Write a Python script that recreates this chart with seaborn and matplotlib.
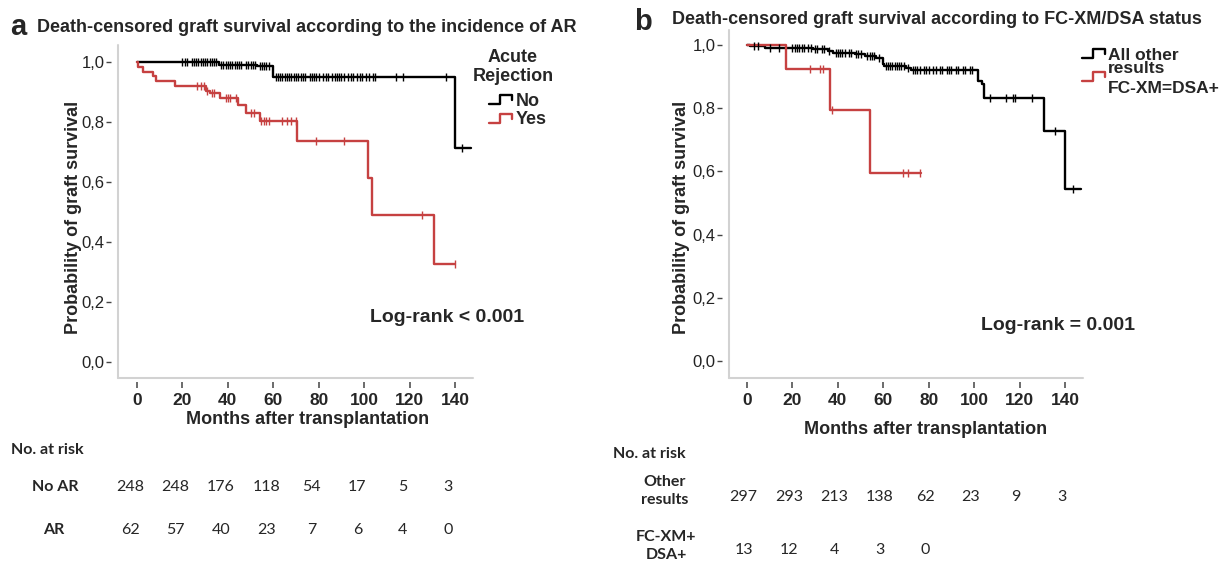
import numpy as np
import pandas as pd
import matplotlib
matplotlib.use("Agg")
import matplotlib.pyplot as plt
import matplotlib.transforms as mtransforms
from matplotlib.lines import Line2D
from matplotlib.legend_handler import HandlerBase
import seaborn as sns

# --- panel a: acute rejection ---
a_no_time = [0, 36, 53, 60, 140, 147]
a_no_surv = [1.0, 0.991, 0.985, 0.951, 0.714, 0.714]
a_no_cens = [20, 21, 22, 24, 25, 26, 27, 28, 29, 30, 31, 32, 33, 34, 35,
             37, 38, 39, 40, 41, 42, 43, 44, 45, 46, 48, 49, 50, 51, 52,
             54, 55, 56, 57, 58,
             61, 62, 63, 64, 65, 66, 67, 68, 69, 70, 71, 72, 73, 74, 76, 77,
             78, 79, 80, 82, 83, 84, 86, 87, 88, 89, 90, 91, 93, 94, 95, 97,
             98, 99, 101, 102, 104, 105, 114, 117, 136, 143]

a_yes_time = [0, 0.6, 2.5, 7.2, 8.4, 16.7, 30.4, 32, 36.5, 44.6, 48, 54.2,
              70.3, 101.9, 103.6, 130.8, 140]
a_yes_surv = [1.0, 0.984, 0.968, 0.952, 0.935, 0.919, 0.903, 0.895, 0.879,
              0.856, 0.830, 0.804, 0.736, 0.613, 0.491, 0.327, 0.327]
a_yes_cens = [26.5, 28, 29.5, 31, 33, 34, 39, 40, 41, 43.5, 50, 51.5,
              54.5, 56, 57, 58, 64, 66, 68, 70, 79, 91, 125.5, 140]

# --- panel b: FC-XM / DSA ---
b_oth_time = [0, 1.5, 8, 29, 35.5, 38, 47.5, 52, 57, 59.7, 60.5, 70, 72,
              101.5, 103.3, 104.5, 130.8, 140, 147]
b_oth_surv = [1.0, 0.997, 0.99, 0.986, 0.981, 0.976, 0.97, 0.965, 0.96,
              0.94, 0.932, 0.926, 0.92, 0.886, 0.876, 0.832, 0.727, 0.544,
              0.544]
b_oth_cens = [3, 5, 10, 14, 20, 21, 22, 23, 24, 25, 27, 28, 30, 31, 33, 34,
              36, 39, 40, 41, 42, 43, 45, 46, 48, 49, 50, 53, 54, 55, 56, 58,
              61, 62, 63, 64, 65, 66, 67, 68, 69, 71,
              73, 74, 75, 76, 78, 79, 80, 82, 83, 85, 86, 88, 89, 90, 92, 93,
              95, 96, 98, 99, 107, 114, 117, 118, 125.5, 135.6, 143.5]

b_fc_time = [0, 17.2, 36.6, 54.2, 76.5]
b_fc_surv = [1.0, 0.923, 0.794, 0.594, 0.594]
b_fc_cens = [27.7, 32.1, 33.3, 37.3, 68.8, 71, 76.2]

xticks = [0, 20, 40, 60, 80, 100, 120, 140]
yticks = [0.0, 0.2, 0.4, 0.6, 0.8, 1.0]
ytick_labels = ["0,0", "0,2", "0,4", "0,6", "0,8", "1,0"]

# --- numbers at risk ---
risk_months = [0, 20, 40, 60, 80, 100, 120, 140]
risk_a_noar = [248, 248, 176, 118, 54, 17, 5, 3]
risk_a_ar = [62, 57, 40, 23, 7, 6, 4, 0]
risk_b_other = [297, 293, 213, 138, 62, 23, 9, 3]
risk_b_fcxm = [13, 12, 4, 3, 0]

RED = "#c64141"
W, H = 1221, 567

sns.set_style("white")
plt.rcParams["font.family"] = ["Liberation Sans", "DejaVu Sans"]
TABLE_FONT = ["Lato", "DejaVu Sans"]


def fpos(x, y):
    # pixel position -> figure fraction
    return x / W, 1 - y / H


class StepHandler(HandlerBase):
    """legend handle drawn as a little step, like SPSS"""

    def __init__(self, dy=0.0):
        super().__init__()
        self.dy = dy

    def create_artists(self, legend, orig_handle, xdescent, ydescent,
                       width, height, fontsize, trans):
        xs = np.array([0, 0.45, 0.45, 1.0, 1.0]) * width - xdescent
        ys = np.array([0.15, 0.15, 0.85, 0.85, 0.45]) * height - ydescent + self.dy
        ln = Line2D(xs, ys, color=orig_handle.get_color(),
                    lw=orig_handle.get_linewidth(), transform=trans)
        return [ln]


def make_axes(fig, left, right, top, bottom, x0, y1, y0):
    # left/right/top/bottom: axes box in px; x0: px of month 0; y1/y0: px of 1.0 / 0.0
    xscale = 2.2714
    yscale = y0 - y1
    ax = fig.add_axes([left / W, 1 - bottom / H, (right - left) / W, (bottom - top) / H])
    ax.set_xlim((left - x0) / xscale, (right - x0) / xscale)
    ax.set_ylim(-(bottom - y0) / yscale, 1 + (y1 - top) / yscale)
    return ax


def draw_km(ax, times, surv, cens, color):
    df = pd.DataFrame({"t": times, "s": surv})
    sns.lineplot(data=df, x="t", y="s", drawstyle="steps-post", color=color,
                 lw=1.7, estimator=None, sort=False, ax=ax, clip_on=False)
    idx = np.searchsorted(times, cens, side="right") - 1
    cdf = pd.DataFrame({"t": cens, "s": np.asarray(surv)[idx]})
    sns.scatterplot(data=cdf, x="t", y="s", marker="|", s=30, linewidth=1.0,
                    color=color, ax=ax, zorder=3, clip_on=False)


def style_axes(ax):
    for side in ["top", "right"]:
        ax.spines[side].set_visible(False)
    ax.spines["left"].set_position(("outward", 5))
    ax.spines["bottom"].set_position(("outward", 3))
    ax.spines["left"].set_visible(False)
    ax.spines["bottom"].set_visible(False)
    # light grey axis lines, ticks sit a few px off them
    ax.plot([0, 0], [0, 1], transform=ax.transAxes, color="#d2d2d2", lw=1.5, clip_on=False)
    ax.plot([0, 1], [0, 0], transform=ax.transAxes, color="#d2d2d2", lw=1.5, clip_on=False)
    ax.set_xticks(xticks)
    ax.set_xticklabels([str(v) for v in xticks], fontweight="bold", fontsize=12.5)
    ax.set_yticks(yticks)
    ax.set_yticklabels(ytick_labels, fontsize=12, color="#222222")
    ax.tick_params(axis="x", bottom=True, length=4.5, width=1.1, color="#444444", pad=3)
    ax.tick_params(axis="y", left=True, length=3.5, width=1.0, color="#444444", pad=1.0)
    ax.set_xlabel("")
    ax.set_ylabel("")


fig = plt.figure(figsize=(W / 100, H / 100), dpi=100)

# ---------------- panel a ----------------
ax_a = make_axes(fig, 118, 473, 45, 378, 137, 62, 362)
draw_km(ax_a, a_no_time, a_no_surv, a_no_cens, "black")
draw_km(ax_a, a_yes_time, a_yes_surv, a_yes_cens, RED)
style_axes(ax_a)

fig.text(*fpos(10, 27), "a", fontsize=21, fontweight="bold", va="center", ha="left")
fig.text(*fpos(37, 27), "Death-censored graft survival according to the incidence of AR",
         fontsize=13, fontweight="bold", va="center", ha="left")
fig.text(*fpos(73, 217), "Probability of graft survival", rotation=90,
         fontsize=13, fontweight="bold", va="center", ha="center")
fig.text(*fpos(308, 420), "Months after transplantation",
         fontsize=13, fontweight="bold", va="center", ha="center")
fig.text(*fpos(447, 317), "Log-rank < 0.001", fontsize=14, fontweight="bold",
         va="center", ha="center")

# legend title as its own text, entries underneath
fig.text(*fpos(513, 49), "Acute\nRejection", fontsize=13, fontweight="bold",
         va="top", ha="center", multialignment="center", linespacing=1.15)
h_a = [Line2D([], [], color="black", lw=1.7), Line2D([], [], color=RED, lw=1.7)]
leg_a = ax_a.legend(h_a, ["No", "Yes"],
                    loc="upper left", bbox_to_anchor=fpos(489, 93),
                    bbox_transform=fig.transFigure, frameon=False,
                    prop={"weight": "bold", "size": 13},
                    handlelength=1.3, handletextpad=0.2, labelspacing=0.08,
                    borderpad=0, borderaxespad=0,
                    handler_map={Line2D: StepHandler()})

# risk table a
tr_a = mtransforms.blended_transform_factory(ax_a.transData, fig.transFigure)
fig.text(*fpos(11, 450), "No. at risk", family=TABLE_FONT, fontsize=11.5,
         fontweight="bold", va="center", ha="left")
fig.text(*fpos(55, 487), "No AR", family=TABLE_FONT, fontsize=11.5,
         fontweight="bold", va="center", ha="center")
fig.text(*fpos(54, 530), "AR", family=TABLE_FONT, fontsize=11.5,
         fontweight="bold", va="center", ha="center")
for m, n in zip(risk_months, risk_a_noar):
    ax_a.text(m - 3, 1 - 487 / H, str(n), transform=tr_a, family=TABLE_FONT,
              fontsize=11.5, va="center", ha="center")
for m, n in zip(risk_months, risk_a_ar):
    ax_a.text(m - 3, 1 - 530 / H, str(n), transform=tr_a, family=TABLE_FONT,
              fontsize=11.5, va="center", ha="center")

# ---------------- panel b ----------------
ax_b = make_axes(fig, 729, 1083, 30, 378, 747, 45, 361)
draw_km(ax_b, b_oth_time, b_oth_surv, b_oth_cens, "black")
draw_km(ax_b, b_fc_time, b_fc_surv, b_fc_cens, RED)
style_axes(ax_b)

fig.text(*fpos(634, 22), "b", fontsize=21, fontweight="bold", va="center", ha="left")
fig.text(*fpos(672, 20), "Death-censored graft survival according to FC-XM/DSA status",
         fontsize=13, fontweight="bold", va="center", ha="left")
fig.text(*fpos(682, 217), "Probability of graft survival", rotation=90,
         fontsize=13, fontweight="bold", va="center", ha="center")
fig.text(*fpos(926, 430), "Months after transplantation",
         fontsize=13, fontweight="bold", va="center", ha="center")
fig.text(*fpos(1058, 325), "Log-rank = 0.001", fontsize=14, fontweight="bold",
         va="center", ha="center")

h_b = [Line2D([], [], color="black", lw=1.7), Line2D([], [], color=RED, lw=1.7)]
leg_b = ax_b.legend(h_b, ["All other\nresults", "FC-XM=DSA+"],
                    loc="upper left", bbox_to_anchor=fpos(1082, 48),
                    bbox_transform=fig.transFigure, frameon=False,
                    prop={"weight": "bold", "size": 12.5},
                    handlelength=1.35, handletextpad=0.15, labelspacing=0.3,
                    borderpad=0, borderaxespad=0,
                    handler_map={h_b[0]: StepHandler(dy=6), h_b[1]: StepHandler(dy=7.5)})
for t in leg_b.get_texts():
    t.set_linespacing(0.8)

# risk table b
tr_b = mtransforms.blended_transform_factory(ax_b.transData, fig.transFigure)
fig.text(*fpos(613, 454), "No. at risk", family=TABLE_FONT, fontsize=11.5,
         fontweight="bold", va="center", ha="left")
fig.text(*fpos(665, 491), "Other\nresults", family=TABLE_FONT, fontsize=11.5,
         fontweight="bold", va="center", ha="center", linespacing=1.35)
fig.text(*fpos(666, 546), "FC-XM+\nDSA+", family=TABLE_FONT, fontsize=11.5,
         fontweight="bold", va="center", ha="center", linespacing=1.35)
for m, n in zip(risk_months, risk_b_other):
    ax_b.text(m - 1.5, 1 - 497 / H, str(n), transform=tr_b, family=TABLE_FONT,
              fontsize=11.5, va="center", ha="center")
for m, n in zip(risk_months, risk_b_fcxm):
    ax_b.text(m - 1.5, 1 - 550 / H, str(n), transform=tr_b, family=TABLE_FONT,
              fontsize=11.5, va="center", ha="center")

fig.savefig("out.png", dpi=100)
